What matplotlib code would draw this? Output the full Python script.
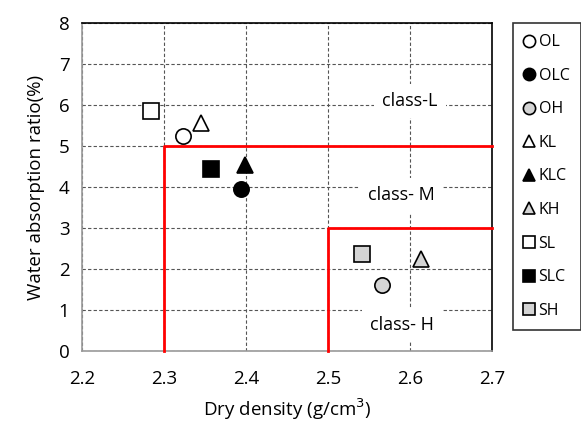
import matplotlib.pyplot as plt
import numpy as np

plt.rcParams['font.family'] = ['Open Sans', 'DejaVu Sans']

# sample names and measured values
names = ["OL", "OLC", "OH", "KL", "KLC", "KH", "SL", "SLC", "SH"]
dry_density = [2.323, 2.394, 2.566, 2.345, 2.399, 2.613, 2.284, 2.357, 2.541]
absorption = [5.24, 3.95, 1.61, 5.56, 4.54, 2.24, 5.85, 4.44, 2.37]

# class borders (x start, y level)
class_m_edge = (2.3, 5.0)
class_h_edge = (2.5, 3.0)
class_names = ["class-L", "class- M", "class- H"]
class_pos = [(2.60, 6.1), (2.59, 3.8), (2.59, 0.63)]

xticks = [2.2, 2.3, 2.4, 2.5, 2.6, 2.7]
yticks = [0, 1, 2, 3, 4, 5, 6, 7, 8]

markers = ["o", "o", "o", "^", "^", "^", "s", "s", "s"]
fills = ["white", "black", "#d4d4d4"] * 3


fig = plt.figure(figsize=(5.81, 4.25), dpi=100)
ax = fig.add_axes([82 / 581, 1 - 351 / 425, 410 / 581, 328 / 425])

ax.set_xlim(2.2, 2.7)
ax.set_ylim(0, 8)
ax.set_xticks(xticks)
ax.set_yticks(yticks)
ax.set_xticklabels([f"{t:.1f}" for t in xticks])
ax.tick_params(length=0, labelsize=13.5, pad=9)
ax.tick_params(axis="x", pad=14)
ax.grid(True, linestyle=(0, (3, 2)), color="#555555", linewidth=0.8)
ax.set_axisbelow(True)

for side in ["left", "bottom"]:
    ax.spines[side].set_color("#999999")
    ax.spines[side].set_linewidth(1.2)
for side in ["top", "right"]:
    ax.spines[side].set_color("black")
    ax.spines[side].set_linewidth(1.2)

# red class borders
for x0, y0 in [class_m_edge, class_h_edge]:
    ax.plot([x0, x0, 2.7], [0, y0, y0], color="red", linewidth=2, zorder=3, clip_on=False)

for txt, (tx, ty) in zip(class_names, class_pos):
    ax.text(tx, ty, txt, fontsize=13, ha="center", va="center", zorder=2,
            bbox=dict(facecolor="white", edgecolor="none", pad=6))

handles = []
for i, name in enumerate(names):
    h, = ax.plot(dry_density[i], absorption[i], linestyle="none", marker=markers[i],
                 markersize=11, markerfacecolor=fills[i], markeredgecolor="black",
                 markeredgewidth=1.2, label=name, zorder=4)
    handles.append(h)

ax.set_xlabel("Dry density (g/cm$^3$)", fontsize=13.5, labelpad=6)
ax.set_ylabel("Water absorption ratio(%)", fontsize=13.5, labelpad=10)

leg = fig.legend(handles=handles, loc="upper left", bbox_to_anchor=(513 / 581, 1 - 23 / 425),
                 fontsize=11.5, markerscale=0.8, handlelength=0.6, handletextpad=0.3,
                 labelspacing=1.1, borderpad=0.7, frameon=True, fancybox=False,
                 borderaxespad=0)
leg.get_frame().set_edgecolor("black")
leg.get_frame().set_linewidth(1.2)

fig.savefig("out.png", dpi=100)
